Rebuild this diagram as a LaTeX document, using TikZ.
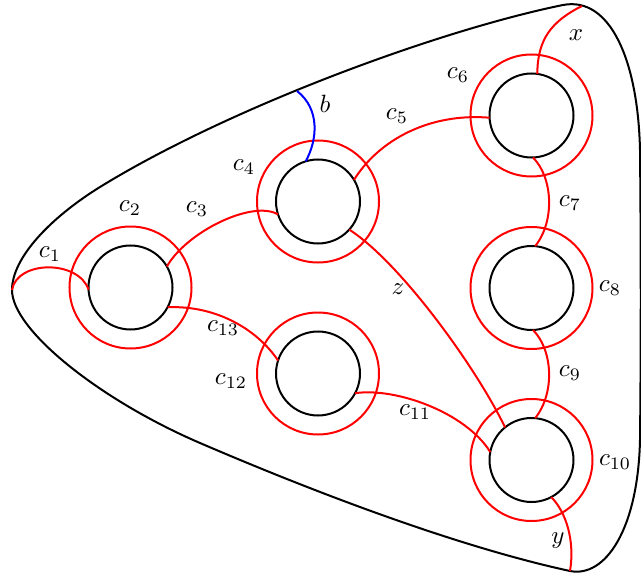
\documentclass[tikz,border=0pt]{standalone}
\begin{document}
\begin{tikzpicture}[x=0.4pt,y=-0.4pt,line width=0.8pt,
  hole/.style={circle,draw=black,inner sep=0pt,outer sep=0pt,minimum size=33.6pt},
  ring/.style={circle,draw=red,inner sep=0pt,outer sep=0pt,minimum size=48.8pt},
  curve/.style={draw=red},
  bcurve/.style={draw=blue},
  lab/.style={inner sep=0pt}]
\useasboundingbox (0,0) rectangle (641,573);
% outer boundary
\draw (12,290) .. controls (12,258) and (50,218) .. (100,187)
  .. controls (230,107) and (440,30) .. (563,5)
  .. controls (610,-4) and (638,60) .. (640,150)
  .. controls (641,250) and (641,350) .. (640,440)
  .. controls (638,530) and (605,578) .. (570,571)
  .. controls (450,545) and (300,486) .. (200,443)
  .. controls (100,400) and (12,330) .. cycle;
\coordinate (T) at (12,290);
\coordinate (B) at (297,91);
\coordinate (X) at (582,6);
\coordinate (Y) at (570,571);
% rings
\node[ring] (r2) at (130.5,287.5) {};
\node[ring] (r4) at (318,201.5) {};
\node[ring] (r6) at (531.5,115.5) {};
\node[ring] (r8) at (531.5,288) {};
\node[ring] (r10) at (531.5,460) {};
\node[ring] (r12) at (318,373.5) {};
% holes
\node[hole] (h2) at (130.5,287.5) {};
\node[hole] (h4) at (318,201.5) {};
\node[hole] (h6) at (531.5,115.5) {};
\node[hole] (h8) at (531.5,288) {};
\node[hole] (h10) at (531.5,460) {};
\node[hole] (h12) at (318,373.5) {};
% arcs
\draw[curve] (T) .. controls +(5,-30) and +(-10,-30) .. (h2.183);
\draw[curve] (h2.30) .. controls +(20,-35) and +(-25,-15) .. (h4.198);
\draw[curve] (h4.31) .. controls +(25,-40) and +(-60,-5) .. (h6.183);
\draw[curve] (h4.318) .. controls +(50,32) and +(-30,-62) .. (h10.129);
\draw[curve] (h6.272) .. controls +(20,20) and +(20,-25) .. (h8.85);
\draw[curve] (h8.272) .. controls +(20,20) and +(20,-25) .. (h10.85);
\draw[curve] (X) .. controls +(-30,15) and +(0,-35) .. (h6.82);
\draw[curve] (h10.298) .. controls +(15,15) and +(5,-30) .. (Y);
\draw[curve] (h2.332) .. controls +(50,-2) and +(-20,-30) .. (h12.162);
\draw[curve] (h12.332) .. controls +(40,-6) and +(-25,-40) .. (h10.169);
\draw[bcurve] (B) .. controls +(23,18) and +(12,-22) .. (h4.107);
% labels
\node[lab] (l1) at (50,254) {$c_1$};
\node[lab] (l2) at (130,208) {$c_2$};
\node[lab] (l3) at (197,209) {$c_3$};
\node[lab] (l4) at (244,167) {$c_4$};
\node[lab] (l5) at (397,116) {$c_5$};
\node[lab] (l6) at (458,75) {$c_6$};
\node[lab] (l7) at (570,203) {$c_7$};
\node[lab] (l8) at (610,288) {$c_8$};
\node[lab] (l9) at (570,373) {$c_9$};
\node[lab] (l10) at (615,462) {$c_{10}$};
\node[lab] (l11) at (415,412) {$c_{11}$};
\node[lab] (l12) at (231,381) {$c_{12}$};
\node[lab] (l13) at (223,328) {$c_{13}$};
\node[lab] (lx) at (576,35) {$x$};
\node[lab] (ly) at (558,541) {$y$};
\node[lab] (lz) at (398,289) {$z$};
\node[lab] (lb) at (325,104) {$b$};
\end{tikzpicture}
\end{document}
